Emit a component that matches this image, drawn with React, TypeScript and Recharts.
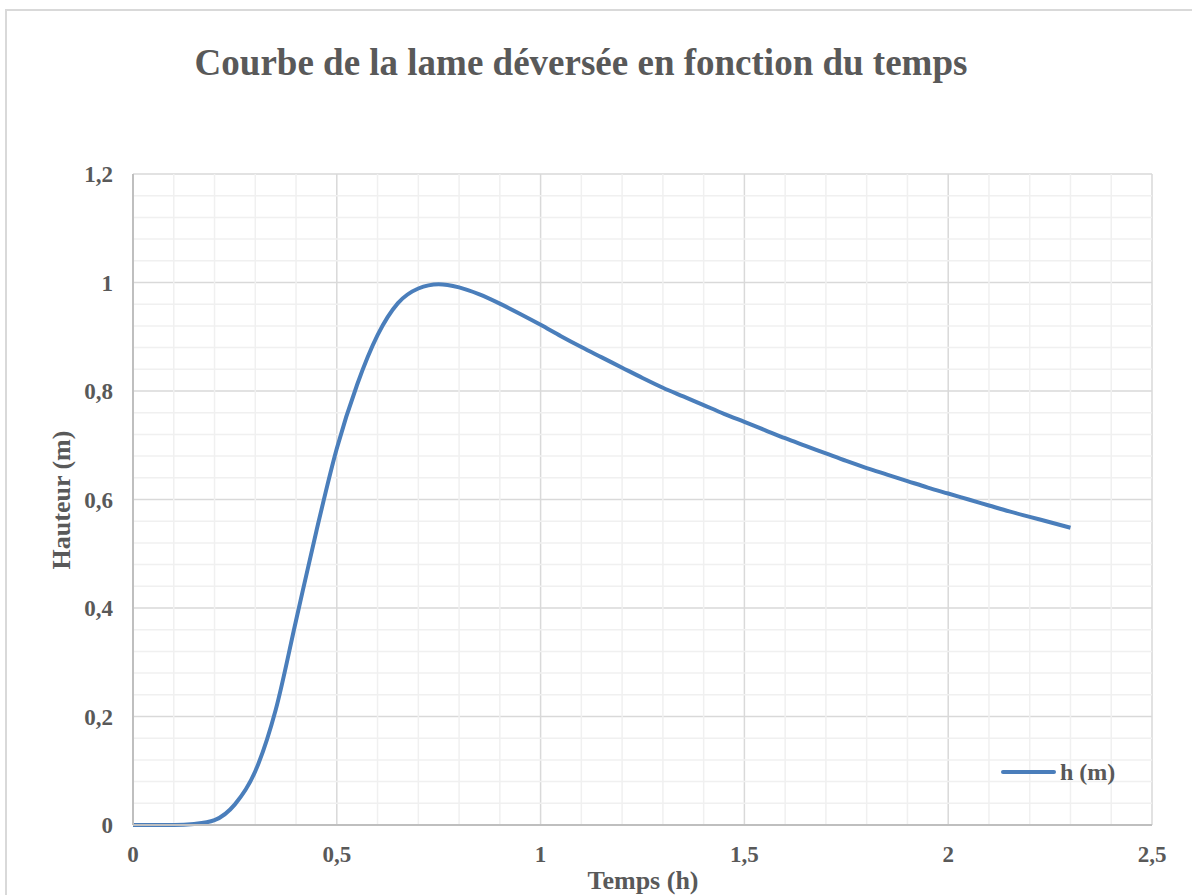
import React from "react";
import { LineChart, Line, XAxis, YAxis, CartesianGrid, ReferenceLine } from "recharts";

const temps = [
  0, 0.05, 0.1, 0.15, 0.2, 0.25, 0.3, 0.35, 0.4, 0.45, 0.5, 0.55, 0.6, 0.65, 0.7, 0.75, 0.8, 0.85, 0.9,
  0.95, 1, 1.05, 1.1, 1.15, 1.2, 1.25, 1.3, 1.35, 1.4, 1.45, 1.5, 1.55, 1.6, 1.65, 1.7, 1.75, 1.8, 1.85,
  1.9, 1.95, 2, 2.05, 2.1, 2.15, 2.2, 2.25, 2.3,
];
const hauteur = [
  0, 0, 0, 0.002, 0.009, 0.038, 0.099, 0.212, 0.377, 0.542, 0.694, 0.812, 0.903, 0.962, 0.989, 0.997, 0.991,
  0.978, 0.961, 0.942, 0.922, 0.901, 0.881, 0.862, 0.843, 0.824, 0.806, 0.79, 0.774, 0.758, 0.743, 0.728,
  0.713, 0.699, 0.685, 0.671, 0.658, 0.646, 0.634, 0.622, 0.611, 0.6, 0.589, 0.578, 0.568, 0.558, 0.548,
];

const xTicks = [0, 0.5, 1, 1.5, 2, 2.5];
const yTicks = [0, 0.2, 0.4, 0.6, 0.8, 1, 1.2];
const xMinorTicks = [
  0.1, 0.2, 0.3, 0.4, 0.6, 0.7, 0.8, 0.9, 1.1, 1.2, 1.3, 1.4, 1.6, 1.7, 1.8, 1.9, 2.1, 2.2, 2.3, 2.4,
];
const yMinorTicks = [
  0.04, 0.08, 0.12, 0.16, 0.24, 0.28, 0.32, 0.36, 0.44, 0.48, 0.52, 0.56, 0.64, 0.68, 0.72, 0.76, 0.84,
  0.88, 0.92, 0.96, 1.04, 1.08, 1.12, 1.16,
];

const data = temps.map((t, i) => ({ t, h: hauteur[i] }));

const FONT = '"Liberation Serif", "Times New Roman", serif';
const TEXT = "#595959";
const LINE = "#4a7ebb";
const MINOR = "#f0f0f0";

const fmt = (v: number) => String(v).replace(".", ",");

const tickStyle = { fontFamily: FONT, fontSize: 23, fontWeight: 700, fill: TEXT };

const App: React.FC = () => {
  return (
    <div
      style={{
        position: "absolute",
        left: 0,
        top: 0,
        width: 1192,
        height: 895,
        overflow: "hidden",
        background: "#fff",
        fontFamily: FONT,
      }}
    >
      <div
        style={{
          position: "absolute",
          left: 5,
          top: 9,
          width: 1200,
          height: 900,
          border: "2px solid #d9d9d9",
        }}
      />
      <LineChart
        width={1192}
        height={895}
        data={data}
        margin={{ top: 174, right: 40, bottom: 0, left: 0 }}
      >
        {xMinorTicks.map((x) => (
          <ReferenceLine key={`x${x}`} x={x} stroke={MINOR} strokeWidth={1.5} />
        ))}
        {yMinorTicks.map((y) => (
          <ReferenceLine key={`y${y}`} y={y} stroke={MINOR} strokeWidth={1.5} />
        ))}
        <CartesianGrid stroke="#d9d9d9" strokeWidth={1.5} />
        <XAxis
          type="number"
          dataKey="t"
          domain={[0, 2.5]}
          ticks={xTicks}
          tickFormatter={fmt}
          height={70}
          tickLine={false}
          tickSize={0}
          tickMargin={21}
          axisLine={{ stroke: "#bfbfbf", strokeWidth: 2 }}
          tick={tickStyle}
        />
        <YAxis
          type="number"
          domain={[0, 1.2]}
          ticks={yTicks}
          tickFormatter={fmt}
          width={133}
          tickLine={false}
          tickSize={0}
          tickMargin={20}
          axisLine={{ stroke: "#bfbfbf", strokeWidth: 2 }}
          tick={tickStyle}
        />
        <Line
          type="monotone"
          dataKey="h"
          name="h (m)"
          stroke={LINE}
          strokeWidth={4}
          dot={false}
          activeDot={false}
          isAnimationActive={false}
        />
      </LineChart>

      <div
        style={{
          position: "absolute",
          left: 581,
          top: 44,
          transform: "translateX(-50%)",
          whiteSpace: "nowrap",
          fontSize: 37,
          lineHeight: "37px",
          fontWeight: 700,
          color: TEXT,
        }}
      >
        Courbe de la lame déversée en fonction du temps
      </div>

      <div
        style={{
          position: "absolute",
          left: 643,
          top: 868,
          transform: "translateX(-50%)",
          whiteSpace: "nowrap",
          fontSize: 26,
          lineHeight: "26px",
          fontWeight: 700,
          color: TEXT,
        }}
      >
        Temps (h)
      </div>

      <div
        style={{
          position: "absolute",
          left: 62,
          top: 500,
          transform: "translate(-50%, -50%) rotate(-90deg)",
          whiteSpace: "nowrap",
          fontSize: 26,
          lineHeight: "26px",
          fontWeight: 700,
          color: TEXT,
        }}
      >
        Hauteur (m)
      </div>

      <div
        style={{
          position: "absolute",
          left: 1001,
          top: 759,
          display: "flex",
          alignItems: "center",
          whiteSpace: "nowrap",
          fontSize: 24,
          lineHeight: "26px",
          fontWeight: 700,
          color: TEXT,
        }}
      >
        <span
          style={{
            display: "inline-block",
            width: 55,
            height: 4,
            borderRadius: 2,
            background: LINE,
            marginRight: 4,
          }}
        />
        h (m)
      </div>
    </div>
  );
};

export default App;
